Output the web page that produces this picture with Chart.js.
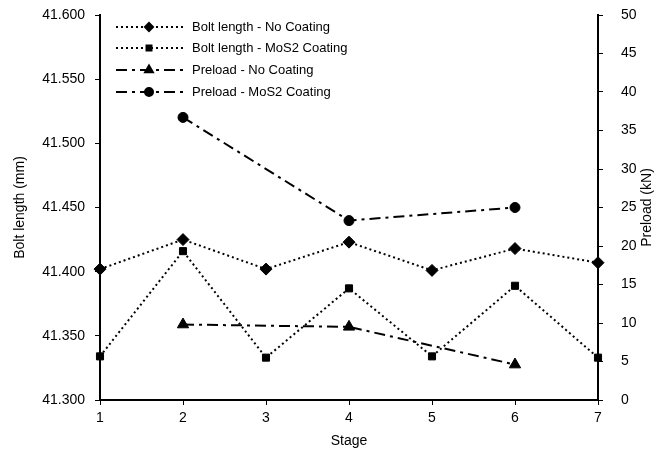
<!DOCTYPE html>
<html>
<head>
<meta charset="utf-8">
<script src="https://cdn.jsdelivr.net/npm/chart.js@4"></script>
<style>
    html, body { margin: 0; padding: 0; background: #fff; }
    #wrap { width: 668px; height: 450px; position: relative; }
</style>
</head>
<body>
<div id="wrap"><canvas id="myChart"></canvas></div>
<script>
const stages = ["1", "2", "3", "4", "5", "6", "7"];
const boltNoCoating = [41.402, 41.425, 41.402, 41.423, 41.401, 41.418, 41.407];
const boltMos2 = [41.334, 41.416, 41.333, 41.387, 41.334, 41.389, 41.333];
const preloadNoCoating = [null, 9.8, null, 9.5, null, 4.6, null];
const preloadMos2 = [null, 36.7, null, 23.3, null, 25.0, null];

const seriesNames = [
    "Bolt length - No Coating",
    "Bolt length - MoS2 Coating",
    "Preload - No Coating",
    "Preload - MoS2 Coating"
];
const rightTitle = "Preload (kN)";

const dotted = [2, 3];
const dashDot = [11, 5, 3, 5];
const fontFamily = "'Liberation Sans', Arial, sans-serif";

// legend drawn inside the plot, top-left, like the original
// also the right axis title, which reads bottom to top
const extras = {
    id: "extras",
    afterDraw(chart) {
        let ctx = chart.ctx;
        let rows = [27, 48, 70, 92];
        let legendSizes = [4, 3.5, 4.5, 4];
        chart.data.datasets.forEach((ds, i) => {
            let y = rows[i];
            ctx.save();
            ctx.strokeStyle = "#000";
            ctx.fillStyle = "#000";
            ctx.lineWidth = 2;
            ctx.setLineDash(ds.borderDash);
            ctx.beginPath();
            ctx.moveTo(116, y);
            ctx.lineTo(183, y);
            ctx.stroke();
            ctx.setLineDash([]);
            Chart.helpers.drawPoint(ctx, {
                pointStyle: ds.pointStyle,
                radius: legendSizes[i],
                rotation: 0,
                borderWidth: 1
            }, 149, y);
            ctx.font = "13px " + fontFamily;
            ctx.textBaseline = "middle";
            ctx.fillText(ds.label, 192, y);
            ctx.restore();
        });

        let area = chart.chartArea;
        ctx.save();
        ctx.translate(647, (area.top + area.bottom) / 2);
        ctx.rotate(-Math.PI / 2);
        ctx.font = "14px " + fontFamily;
        ctx.fillStyle = "#000";
        ctx.textAlign = "center";
        ctx.textBaseline = "middle";
        ctx.fillText(rightTitle, 0, 0);
        ctx.restore();
    }
};

// keep tick padding from pushing the plot area down
function fixVertical(width) {
    return function (scale) {
        scale.width = width;
        scale.paddingTop = 8;
        scale.paddingBottom = 8;
    };
}

document.addEventListener("DOMContentLoaded", function () {
    let ctx = document.getElementById("myChart").getContext("2d");

    Chart.defaults.font.family = fontFamily;
    Chart.defaults.font.size = 14;
    Chart.defaults.color = "#000";

    function lineSet(label, data, axis, dash, style, radius) {
        return {
            label: label,
            data: data,
            yAxisID: axis,
            borderColor: "#000",
            backgroundColor: "#000",
            borderWidth: 2,
            borderDash: dash,
            pointStyle: style,
            pointRadius: radius,
            pointHoverRadius: radius,
            pointBorderWidth: 1,
            spanGaps: true,
            tension: 0
        };
    }

    new Chart(ctx, {
        type: "line",
        data: {
            labels: stages,
            datasets: [
                lineSet(seriesNames[0], boltNoCoating, "y", dotted, "rectRot", 6),
                lineSet(seriesNames[1], boltMos2, "y", dotted, "rect", 5),
                lineSet(seriesNames[2], preloadNoCoating, "y1", dashDot, "triangle", 6.5),
                lineSet(seriesNames[3], preloadMos2, "y1", dashDot, "circle", 5)
            ]
        },
        options: {
            responsive: true,
            maintainAspectRatio: false,
            animation: false,
            layout: { padding: { top: 15, left: 0, right: 0, bottom: 0 } },
            plugins: {
                legend: { display: false },
                tooltip: { enabled: false }
            },
            scales: {
                x: {
                    type: "category",
                    offset: false,
                    grid: { drawOnChartArea: false, drawTicks: true, tickLength: 5, color: "#000", lineWidth: 1 },
                    border: { display: true, color: "#000", width: 2 },
                    ticks: { padding: 5, maxRotation: 0, minRotation: 0 },
                    title: { display: true, text: "Stage", padding: { top: 0, bottom: 0 } },
                    afterFit: function (scale) { scale.height = 50; }
                },
                y: {
                    position: "left",
                    min: 41.3,
                    max: 41.6,
                    grid: { drawOnChartArea: false, drawTicks: true, tickLength: 5, color: "#000" },
                    border: { display: true, color: "#000", width: 2 },
                    ticks: {
                        stepSize: 0.05,
                        padding: 10,
                        callback: v => v.toFixed(3)
                    },
                    title: { display: true, text: "Bolt length (mm)", padding: { top: 12, bottom: 0 } },
                    afterFit: fixVertical(100)
                },
                y1: {
                    position: "right",
                    min: 0,
                    max: 50,
                    grid: { drawOnChartArea: false, drawTicks: true, tickLength: 5, color: "#000" },
                    border: { display: true, color: "#000", width: 2 },
                    ticks: { stepSize: 5, padding: 18 },
                    title: { display: false },
                    afterFit: fixVertical(70)
                }
            }
        },
        plugins: [extras]
    });
});
</script>
</body>
</html>
